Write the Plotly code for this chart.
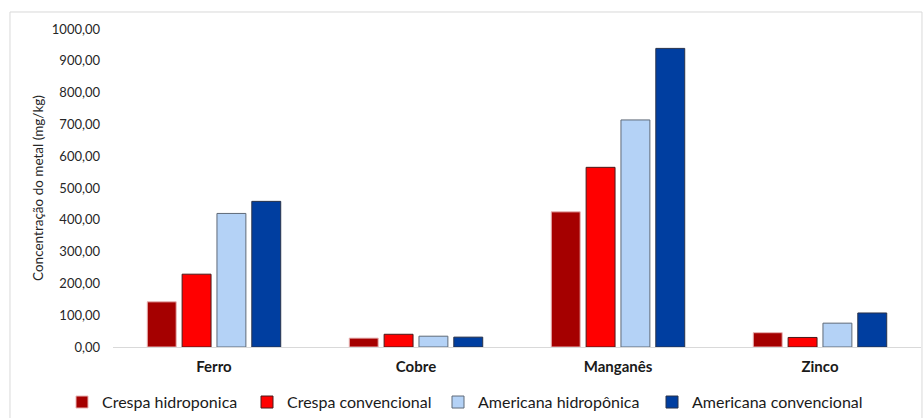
import plotly.graph_objects as go

metais = ["Ferro", "Cobre", "Manganês", "Zinco"]
crespa_hidroponica = [142, 28, 425, 45]
crespa_convencional = [229, 40, 565, 30]
americana_hidroponica = [420, 34, 714, 75]
americana_convencional = [458, 31, 939, 107]

series = [
    ("Crespa hidroponica", crespa_hidroponica, "#a50000", "#e8b4b4"),
    ("Crespa convencional", crespa_convencional, "#ff0000", "#4a1a1a"),
    ("Americana hidropônica", americana_hidroponica, "#b4d2f6", "#5f6a78"),
    ("Americana convencional", americana_convencional, "#003ea0", "#28324a"),
]

# left edge (px) of each single-entry legend along the bottom row
legend_left_px = [62, 247, 438, 652]
fig_width, fig_height = 924, 418

fig = go.Figure()
legend_layouts = {}
for i, (nome, valores, cor, borda) in enumerate(series):
    key = "legend" if i == 0 else f"legend{i + 1}"
    fig.add_trace(go.Bar(
        name=nome, x=metais, y=valores, legend=key, showlegend=True,
        marker=dict(color=cor, line=dict(color=borda, width=1)),
    ))
    legend_layouts[key] = dict(
        orientation="h",
        x=legend_left_px[i] / fig_width, xref="container", xanchor="left",
        y=0.038, yref="container", yanchor="middle",
        font=dict(size=16, color="#1a1a1a"), itemwidth=30,
        bgcolor="rgba(0,0,0,0)",
    )

fig.update_layout(
    width=fig_width, height=fig_height,
    showlegend=True,
    margin=dict(l=113, r=3, t=29, b=71, autoexpand=False),
    paper_bgcolor="white", plot_bgcolor="white",
    barmode="group", bargap=0.31, bargroupgap=0.17,
    separators=",.",
    font=dict(family="Lato, Open Sans, sans-serif", color="#262626"),
    xaxis=dict(
        showline=True, linecolor="#d9d9d9", linewidth=1,
        ticks="", tickfont=dict(size=15, color="#1a1a1a", family="Lato"),
        tickprefix="<b>", ticksuffix="</b>", showgrid=False,
        ticklabelstandoff=6,
    ),
    yaxis=dict(
        range=[0, 1000], dtick=100, tickformat=".2f",
        showgrid=False, zeroline=False, showline=False,
        tickfont=dict(size=13, color="#262626"),
        ticklabelstandoff=12,
        title=dict(text="Concentração do metal (mg/kg)", font=dict(size=13.5, color="#262626"), standoff=5),
    ),
    shapes=[dict(
        type="rect", xref="paper", yref="paper",
        x0=-0.1275, x1=1.0012, y0=-0.3, y1=1.0535,
        line=dict(color="#d9d9d9", width=1), layer="below",
    )],
    **legend_layouts,
)

fig.write_html("out.html")
